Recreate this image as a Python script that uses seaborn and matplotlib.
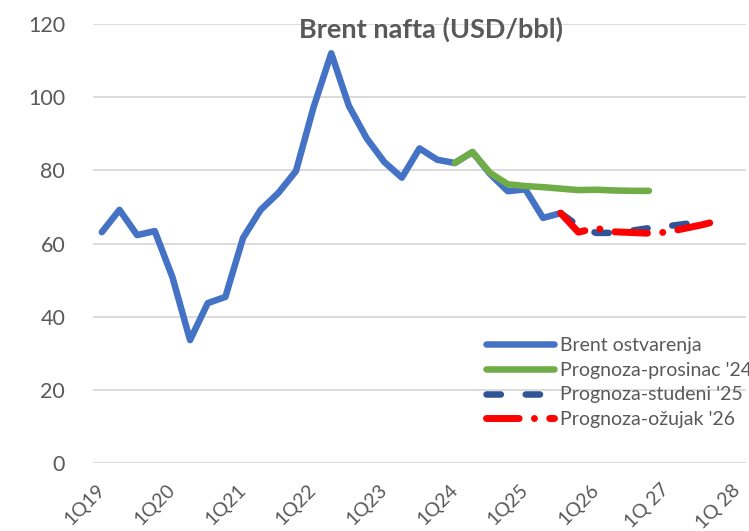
# %% biblioteke
import matplotlib
matplotlib.use('Agg')
import matplotlib.pyplot as plt
import matplotlib.transforms as mtransforms
import seaborn as sns
import pandas as pd

# %% podaci (ocitano sa grafika)

# kvartali od 1Q19 do 1Q28
kvartali = [f'{q}Q{g}' for g in range(19, 29) for q in range(1, 5)][:37]

oznake_x = ['1Q19', '1Q20', '1Q21', '1Q22', '1Q23', '1Q24', '1Q25',
            '1Q26', '1Q 27', '1Q 28']

brent_ostvarenja = [63.1, 69.2, 62.3, 63.4, 50.8, 33.6, 43.7, 45.4,
                    61.5, 69.2, 73.8, 79.8, 97.3, 112.0, 97.6, 88.8,
                    82.3, 78.0, 86.0, 82.9, 82.0, 85.0, 79.0, 74.3,
                    74.8, 67.0, 68.3]
# prognoze - pocetni kvartal + vrednosti
prosinac24_start = '1Q24'
prog_prosinac24 = [82.0, 85.0, 79.3, 76.2, 75.7, 75.4, 75.0, 74.6,
                   74.7, 74.5, 74.4, 74.4]
studeni25_start = '3Q25'
prog_studeni25 = [68.3, 64.8, 62.9, 62.9, 63.5, 64.2, 64.7, 65.3, 66.0]
ozujak26_start = '3Q25'
prog_ozujak26 = [68.3, 63.1, 64.2, 63.2, 63.0, 62.8, 63.1, 64.1, 65.1, 66.3]


def serija(start, vrednosti):
    i0 = kvartali.index(start)
    return pd.DataFrame({'x': range(i0, i0 + len(vrednosti)), 'y': vrednosti})


# %% grafik
sns.set_style('white')
plt.rcParams['font.family'] = ['Lato', 'DejaVu Sans']

siva = '#595959'
fig = plt.figure(figsize=(7.49, 5.31), dpi=100)
ax = fig.add_axes([93 / 749, 1 - 463 / 531, (746 - 93) / 749, (463 - 24) / 531])

sns.lineplot(data=serija('1Q19', brent_ostvarenja), x='x', y='y', ax=ax,
             color='#4472C4', linewidth=4.7, label='Brent ostvarenja',
             solid_capstyle='round', solid_joinstyle='round')
sns.lineplot(data=serija(prosinac24_start, prog_prosinac24), x='x', y='y', ax=ax,
             color='#70AD47', linewidth=4.7, label="Prognoza-prosinac '24",
             solid_capstyle='round', solid_joinstyle='round')
sns.lineplot(data=serija(studeni25_start, prog_studeni25), x='x', y='y', ax=ax,
             color='#2F5597', linewidth=4.7, label="Prognoza-studeni '25")
ax.lines[-1].set_dashes([2.2, 3.8])
ax.lines[-1].set_dash_capstyle('round')
sns.lineplot(data=serija(ozujak26_start, prog_ozujak26), x='x', y='y', ax=ax,
             color='#FF0000', linewidth=5, label="Prognoza-ožujak '26")
ax.lines[-1].set_dashes([4.7, 2.2, 0.01, 2.2])
ax.lines[-1].set_dash_capstyle('round')

ax.set_xlim(-0.5, 36.5)
ax.set_ylim(0, 120)
ax.set_yticks(range(0, 121, 20))
ax.set_xticks(range(0, 37, 4))
ax.set_xticklabels(oznake_x, rotation=45, ha='right', rotation_mode='anchor')
ax.tick_params(axis='y', length=0, pad=20, labelsize=15.5, labelcolor=siva)
ax.tick_params(axis='x', length=0, pad=13, labelsize=14, labelcolor=siva)
# malo pomeramo oznake ulevo, kao na originalu
pomak = mtransforms.ScaledTranslation(-6 / 100, 0, fig.dpi_scale_trans)
for lbl in ax.get_xticklabels():
    lbl.set_transform(lbl.get_transform() + pomak)
ax.set_xlabel('')
ax.set_ylabel('')
ax.grid(axis='y', color='#D9D9D9', linewidth=1.3)
ax.set_axisbelow(True)
for s in ax.spines.values():
    s.set_visible(False)

fig.text(431 / 749, 1 - 29 / 531, 'Brent nafta (USD/bbl)', ha='center', va='center',
         fontsize=19.5, fontweight='bold', color=siva)

ax.legend(loc='upper left', bbox_to_anchor=(478 / 749, 1 - 329 / 531),
          bbox_transform=fig.transFigure, frameon=False, fontsize=14,
          handlelength=3.5, handletextpad=0.3, labelspacing=0.4,
          labelcolor=siva, borderaxespad=0)

plt.savefig('out.png', dpi=100)
